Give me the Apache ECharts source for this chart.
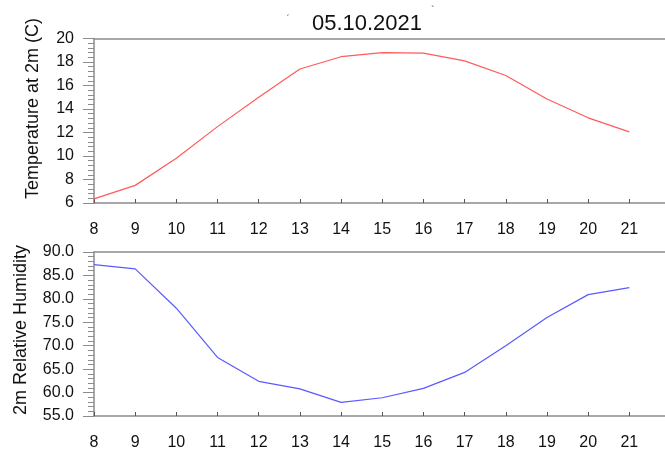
<!DOCTYPE html>
<html>
<head>
<meta charset="utf-8">
<script src="https://cdn.jsdelivr.net/npm/echarts@6/dist/echarts.min.js"></script>
<style>
html,body{margin:0;padding:0;background:#fff;overflow:hidden;}
#c{width:665px;height:450px;}
</style>
</head>
<body>
<div id="c"></div>
<script>
var hours = [8, 9, 10, 11, 12, 13, 14, 15, 16, 17, 18, 19, 20, 21];
var temperature = [6.35, 7.5, 9.8, 12.5, 15.0, 17.4, 18.45, 18.8, 18.75, 18.1, 16.85, 14.85, 13.25, 12.05];
var humidity = [87.3, 86.4, 78.0, 67.5, 62.4, 60.8, 57.9, 58.9, 60.9, 64.3, 70.0, 76.0, 80.9, 82.4];
var xTicks = [8, 9, 10, 11, 12, 13, 14, 15, 16, 17, 18, 19, 20, 21];
var titleText = "05.10.2021";
var tempName = "Temperature at 2m (C)";
var humName = "2m Relative Humidity";

var FONT = "Liberation Sans, Arial, Helvetica, sans-serif";
var AX = "#8c8c8c";

function pairs(xs, ys){ return xs.map(function(x,i){ return [x, ys[i]]; }); }

function xAxisCfg(gi){
  return {
    gridIndex: gi, type: 'value', min: 8, max: 22, interval: 1,
    axisLine: {show: true, onZero: false, lineStyle: {color: AX, width: 1.5}},
    axisTick: {show: true, inside: true, length: 4, lineStyle: {color: '#555', width: 1}},
    axisLabel: {show: true, margin: 19, fontSize: 16, color: '#111', fontFamily: FONT,
      showMaxLabel: false,
      formatter: function(v){ return xTicks.indexOf(v) >= 0 ? String(v) : ''; }},
    splitLine: {show: false}
  };
}
function xTopCfg(gi){
  return {
    gridIndex: gi, type: 'value', position: 'top', min: 8, max: 22,
    axisLine: {show: true, onZero: false, lineStyle: {color: AX, width: 1.5}},
    axisTick: {show: false}, axisLabel: {show: false}, splitLine: {show: false}
  };
}
function yAxisCfg(gi, min, max, step, dec){
  return {
    gridIndex: gi, type: 'value', min: min, max: max, interval: step,
    axisLine: {show: true, lineStyle: {color: AX, width: 1.5}},
    axisTick: {show: true, length: 11, lineStyle: {color: AX, width: 1}},
    minorTick: {show: true, splitNumber: 5, length: 6, lineStyle: {color: AX, width: 1}},
    axisLabel: {margin: 20, fontSize: 16, color: '#111', fontFamily: FONT,
      formatter: function(v){ return v.toFixed(dec); }},
    splitLine: {show: false}, minorSplitLine: {show: false}
  };
}

var chart = echarts.init(document.getElementById('c'), null, {renderer: 'canvas'});
chart.setOption({
  backgroundColor: '#fff',
  animation: false,
  title: {text: titleText, left: 362, top: 8, textAlign: 'center',
    textStyle: {fontSize: 22, fontWeight: 'normal', color: '#111', fontFamily: FONT}},
  graphic: [
    {type: 'text', x: 286, y: 6, style: {text: 'ˏ', fontSize: 10, fill: '#555'}},
    {type: 'text', x: 431, y: 5, style: {text: '`', fontSize: 11, fill: '#555'}},
    {type: 'text', x: 33, y: 108.5, rotation: Math.PI / 2,
      style: {text: tempName, fontSize: 18, fill: '#111', fontFamily: FONT, align: 'center', verticalAlign: 'middle'}},
    {type: 'text', x: 21, y: 330, rotation: Math.PI / 2,
      style: {text: humName, fontSize: 18, fill: '#111', fontFamily: FONT, align: 'center', verticalAlign: 'middle'}}
  ],
  grid: [
    {left: 94, top: 38.5, width: 576.5, height: 164.5, show: false, containLabel: false, outerBoundsMode: 'none'},
    {left: 94, top: 252, width: 576.5, height: 164, show: false, containLabel: false, outerBoundsMode: 'none'}
  ],
  xAxis: [xAxisCfg(0), xAxisCfg(1), xTopCfg(0), xTopCfg(1)],
  yAxis: [
    yAxisCfg(0, 6, 20, 2, 0),
    yAxisCfg(1, 55, 90, 5, 1)
  ],
  series: [
    {type: 'line', xAxisIndex: 0, yAxisIndex: 0, data: pairs(hours, temperature),
      showSymbol: false, symbol: 'none', lineStyle: {color: '#ff5a5a', width: 1.2}},
    {type: 'line', xAxisIndex: 1, yAxisIndex: 1, data: pairs(hours, humidity),
      showSymbol: false, symbol: 'none', lineStyle: {color: '#5a5aff', width: 1.2}}
  ]
});
</script>
</body>
</html>
